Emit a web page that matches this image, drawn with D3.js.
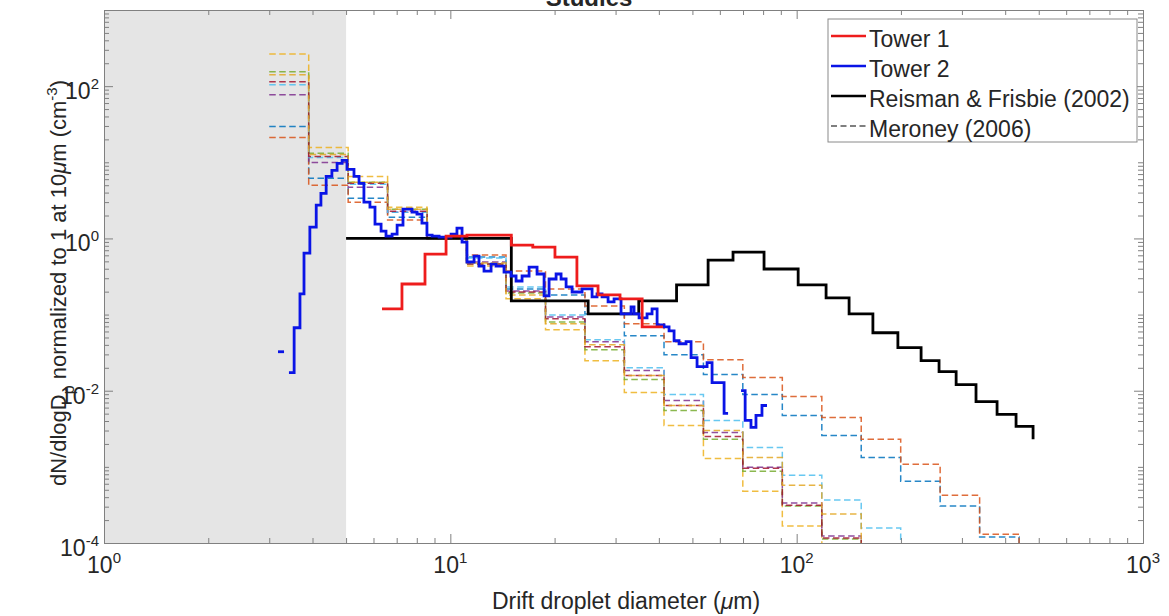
<!DOCTYPE html>
<html>
<head>
<meta charset="utf-8">
<script src="https://cdn.jsdelivr.net/npm/d3@7"></script>
<style>
  body { margin: 0; background: #fff; }
  text { font-family: "Liberation Sans", Arial, Helvetica, sans-serif; fill: #262626; }
</style>
</head>
<body>
<div id="chart"></div>
<script>
var width = 1169,
    height = 616,
    padLeft = 104, padRight = 1143, padTop = 10, padBottom = 543

// Meroney (2006) bin edges (um) and normalized spectra, one array per curve
var merEdges = [3.0, 3.9, 5.07, 6.59, 8.57, 11.14, 14.48, 18.83, 24.47, 31.8, 41.4, 53.8, 69.9, 90.9, 118.2, 153.6, 199.7, 259.6, 337.5, 438.7]
var merBlue = [29.4, 6.15, 3.37, 1.90, 1, 0.569, 0.217, 0.181, 0.102, 0.0527, 0.0297, 0.0163, 0.0089, 0.00473, 0.00259, 0.00133, 0.000648, 0.000305, 0.00012, 0.00001]
var merOrange = [21.1, 4.98, 2.98, 1.74, 1, 0.604, 0.373, 0.217, 0.130, 0.0757, 0.044, 0.0256, 0.0149, 0.00838, 0.00446, 0.0023, 0.00108, 0.000425, 0.00013, 0.00001]
var merYellowLow = [265, 15.6, 6.53, 2.57, 1, 0.434, 0.161, 0.063, 0.0248, 0.00946, 0.0035, 0.00129, 0.000479, 0.000167, 0.00003]
var merPurple = [77, 9.96, 4.69, 2.21, 1, 0.49, 0.204, 0.093, 0.044, 0.0184, 0.00743, 0.00283, 0.000987, 0.000334, 0.000124, 0.00003]
var merGreen = [155, 13.1, 5.45, 2.41, 1, 0.461, 0.192, 0.080, 0.0345, 0.0140, 0.0055, 0.0023, 0.000875, 0.000305, 0.000113, 0.00003]
var merLightBlue = [104, 11.6, 5.13, 2.21, 1, 0.552, 0.231, 0.099, 0.0467, 0.0201, 0.0089, 0.00406, 0.0018, 0.000776, 0.000366, 0.000157, 0.00003]
var merDarkRed = [114, 11.9, 5.29, 2.27, 1, 0.461, 0.198, 0.088, 0.0378, 0.0158, 0.0064, 0.00251, 0.000957, 0.000314, 0.000116, 0.00003]
var merYellow = [141, 12.7, 5.45, 2.41, 1, 0.475, 0.181, 0.0756, 0.040, 0.0158, 0.0064, 0.00301, 0.00133, 0.000574, 0.00024, 0.00003]

// Reisman & Frisbie (2002)
var reismanD = [5, 15, 25, 35, 45, 55.5, 65.5, 80.5, 101, 121.6, 141.7, 166, 196, 228.7, 257.7, 288.7, 329.5, 379, 430, 481.5]
var reismanN = [1.0, 0.151, 0.102, 0.151, 0.245, 0.520, 0.662, 0.397, 0.245, 0.166, 0.102, 0.0577, 0.0367, 0.0248, 0.0178, 0.0120, 0.00721, 0.00488, 0.0034, 0.0023]

// Tower 1
var towerOneD = [6.35, 7.25, 8.45, 9.72, 11.17, 15.0, 17.3, 20.05, 23.2, 26.7, 30.9, 35.8, 41.1]
var towerOneN = [0.119, 0.252, 0.623, 1.072, 1.105, 0.817, 0.769, 0.569, 0.238, 0.181, 0.161, 0.069, 0.069]

// Tower 2 (three separate pieces)
var towerTwoDotD = [3.18, 3.31]
var towerTwoDotN = [0.0325, 0.0325]
var towerTwoD = [3.42, 3.54, 3.68, 3.78, 3.93, 4.10, 4.23, 4.38, 4.55, 4.71,
  4.87, 5.03, 5.27, 5.45, 5.63, 5.86, 6.06, 6.31, 6.52, 6.79,
  7.02, 7.30, 7.75, 8.01, 8.28, 8.56, 8.86, 9.28, 10.05, 10.45,
  10.81, 11.17, 11.71, 12.10, 12.51, 13.11, 13.55, 14.29, 14.97, 15.48,
  16.11, 16.88, 17.80, 18.65, 19.28, 20.20, 20.88, 21.59, 22.47, 24.01,
  25.66, 26.52, 27.42, 28.54, 29.70, 31.11, 33.25, 33.92, 35.07, 36.98,
  38.23, 39.54, 41.41, 42.81, 44.26, 45.75, 47.93, 49.55, 51.57, 55.12,
  56.98, 61.72, 63.38]
var towerTwoN = [0.01728, 0.0671, 0.1867, 0.642, 1.405, 2.73, 3.91, 6.53, 7.83, 9.67,
  10.58, 8.07, 6.53, 5.29, 2.99, 2.57, 1.54, 1.246, 1.072, 1.138,
  1.493, 2.42, 2.21, 2.08, 1.586, 1.105, 1.072, 1.04, 1.138, 1.364,
  0.895, 0.490, 0.587, 0.434, 0.373, 0.461, 0.434, 0.362, 0.321, 0.276,
  0.321, 0.421, 0.341, 0.176, 0.293, 0.341, 0.293, 0.2306, 0.198, 0.217,
  0.1706, 0.1867, 0.1706, 0.1467, 0.1606, 0.1022, 0.1263, 0.1022, 0.0906, 0.1022,
  0.1189, 0.0734, 0.0691, 0.0612, 0.0453, 0.0414, 0.0440, 0.0272, 0.0207, 0.0234,
  0.01279, 0.00503, 0.00503]
var towerTwoTailD = [69.1, 71.0, 73.8, 76.3, 79.4, 82.1]
var towerTwoTailN = [0.01005, 0.00407, 0.00330, 0.00473, 0.00639, 0.00639]

var legendLabels = ["Tower 1", "Tower 2", "Reisman & Frisbie (2002)", "Meroney (2006)"]
var xTickExp = [0, 1, 2, 3]
var yTickExp = [-4, -2, 0, 2]

var x = d3.scaleLog().domain([1, 1000]).range([padLeft, padRight])
var y = d3.scaleLog().domain([1e-4, 1e3]).range([padBottom, padTop])

var svg = d3.select("#chart")
  .append("svg")
    .attr("width", width)
    .attr("height", height)

svg.append("defs").append("clipPath").attr("id", "plot")
  .append("rect")
    .attr("x", padLeft).attr("y", padTop)
    .attr("width", padRight - padLeft).attr("height", padBottom - padTop)

// shaded region below 5 um
svg.append("rect")
  .attr("x", x(1)).attr("y", padTop)
  .attr("width", x(5) - x(1)).attr("height", padBottom - padTop)
  .attr("fill", "#e5e5e5")

var stairs = d3.line()
  .x(function(d) { return x(d[0]) })
  .y(function(d) { return y(d[1]) })
  .curve(d3.curveStepAfter)

var plot = svg.append("g").attr("clip-path", "url(#plot)")

var meroney = [
  [merBlue, "#0072BD"], [merOrange, "#D95319"], [merYellowLow, "#EDB120"],
  [merPurple, "#7E2F8E"], [merGreen, "#77AC30"], [merLightBlue, "#4DBEEE"],
  [merDarkRed, "#A2142F"], [merYellow, "#E3A724"]
]

meroney.forEach(function(m) {
  var pts = m[0].map(function(v, i) { return [merEdges[i], v] })
  plot.append("path")
    .attr("d", stairs(pts))
    .attr("fill", "none")
    .attr("stroke", m[1])
    .attr("stroke-width", 1.5)
    .attr("stroke-dasharray", "6.5,3.5")
    .style("opacity", 0.85)
})

function solid(xs, ys, color) {
  plot.append("path")
    .attr("d", stairs(xs.map(function(d, i) { return [d, ys[i]] })))
    .attr("fill", "none")
    .attr("stroke", color)
    .attr("stroke-width", 2.8)
}

solid(reismanD, reismanN, "#000")
solid(towerTwoDotD, towerTwoDotN, "#0a14e6")
solid(towerTwoD, towerTwoN, "#0a14e6")
solid(towerTwoTailD, towerTwoTailN, "#0a14e6")
solid(towerOneD, towerOneN, "#ee1c1c")

// axes: ticks pointing inward on all four sides
var xMinor = [], yMinor = []
for (var e = 0; e < 3; e++) for (var k = 2; k < 10; k++) xMinor.push(k * Math.pow(10, e))
for (var e = -4; e < 3; e++) for (var k = 1; k < 10; k++) {
  if (k == 1 && (e + 4) % 2 == 0) continue
  yMinor.push(k * Math.pow(10, e))
}
var xMajor = xTickExp.map(function(p) { return Math.pow(10, p) })
var yMajor = yTickExp.map(function(p) { return Math.pow(10, p) })

function drawAxis(axis, tr) {
  var g = svg.append("g").attr("transform", tr).call(axis)
  g.selectAll("path, line").attr("stroke", "#808080")
  g.selectAll("text").remove()
  return g
}

drawAxis(d3.axisBottom(x).tickValues(xMinor).tickSize(-5).tickSizeOuter(0), "translate(0," + padBottom + ")")
drawAxis(d3.axisBottom(x).tickValues(xMajor).tickSize(-9).tickSizeOuter(0), "translate(0," + padBottom + ")")
drawAxis(d3.axisTop(x).tickValues(xMinor).tickSize(-5).tickSizeOuter(0), "translate(0," + padTop + ")")
drawAxis(d3.axisTop(x).tickValues(xMajor).tickSize(-9).tickSizeOuter(0), "translate(0," + padTop + ")")
drawAxis(d3.axisLeft(y).tickValues(yMinor).tickSize(-5).tickSizeOuter(0), "translate(" + padLeft + ",0)")
drawAxis(d3.axisLeft(y).tickValues(yMajor).tickSize(-9).tickSizeOuter(0), "translate(" + padLeft + ",0)")
drawAxis(d3.axisRight(y).tickValues(yMinor).tickSize(-5).tickSizeOuter(0), "translate(" + padRight + ",0)")
drawAxis(d3.axisRight(y).tickValues(yMajor).tickSize(-9).tickSizeOuter(0), "translate(" + padRight + ",0)")

// tick labels with superscript exponents
xTickExp.forEach(function(p) {
  var t = svg.append("text")
    .attr("x", x(Math.pow(10, p))).attr("y", 573)
    .attr("text-anchor", "middle")
    .style("font-size", "23px")
    .text("10")
  t.append("tspan").attr("dy", -10).style("font-size", "15px").text(p)
})
yTickExp.forEach(function(p) {
  var t = svg.append("text")
    .attr("x", 99).attr("y", y(Math.pow(10, p)) + 13)
    .attr("text-anchor", "end")
    .style("font-size", "23px")
    .text("10")
  t.append("tspan").attr("dy", -10).style("font-size", "15px").text(p)
})

// axis titles
var xl = svg.append("text")
  .attr("x", 626).attr("y", 609)
  .attr("text-anchor", "middle")
  .style("font-size", "23px")
  .text("Drift droplet diameter (")
xl.append("tspan").style("font-style", "italic").text("\u03bc")
xl.append("tspan").text("m)")

var yl = svg.append("text")
  .attr("transform", "translate(66,283) rotate(-90)")
  .attr("text-anchor", "middle")
  .style("font-size", "22px")
  .text("dN/dlogD")
yl.append("tspan").attr("dy", 8).style("font-size", "16px").text("p")
yl.append("tspan").attr("dy", -8).text(" normalized to 1 at 10")
yl.append("tspan").style("font-style", "italic").text("\u03bc")
yl.append("tspan").text("m (cm")
yl.append("tspan").attr("dy", -9).style("font-size", "15px").text("-3")
yl.append("tspan").attr("dy", 9).text(")")

// clipped title
svg.append("text")
  .attr("x", 589).attr("y", 6)
  .attr("text-anchor", "middle")
  .style("font-size", "24px")
  .style("font-weight", "bold")
  .text("Studies")

// legend
var lg = svg.append("g")
lg.append("rect")
  .attr("x", 828).attr("y", 19)
  .attr("width", 309).attr("height", 123)
  .attr("fill", "#fff")
  .attr("stroke", "#8a8a8a")
var lcol = ["#ee1c1c", "#0a14e6", "#000", "#555"]
legendLabels.forEach(function(name, i) {
  var yy = 36 + i * 30
  lg.append("line")
    .attr("x1", 831).attr("x2", 866)
    .attr("y1", yy).attr("y2", yy)
    .attr("stroke", lcol[i])
    .attr("stroke-width", i < 3 ? 2.4 : 1.4)
    .attr("stroke-dasharray", i < 3 ? null : "6,3.5")
  lg.append("text")
    .attr("x", 869).attr("y", yy + 11)
    .style("font-size", "23px")
    .text(name)
})
</script>
</body>
</html>
